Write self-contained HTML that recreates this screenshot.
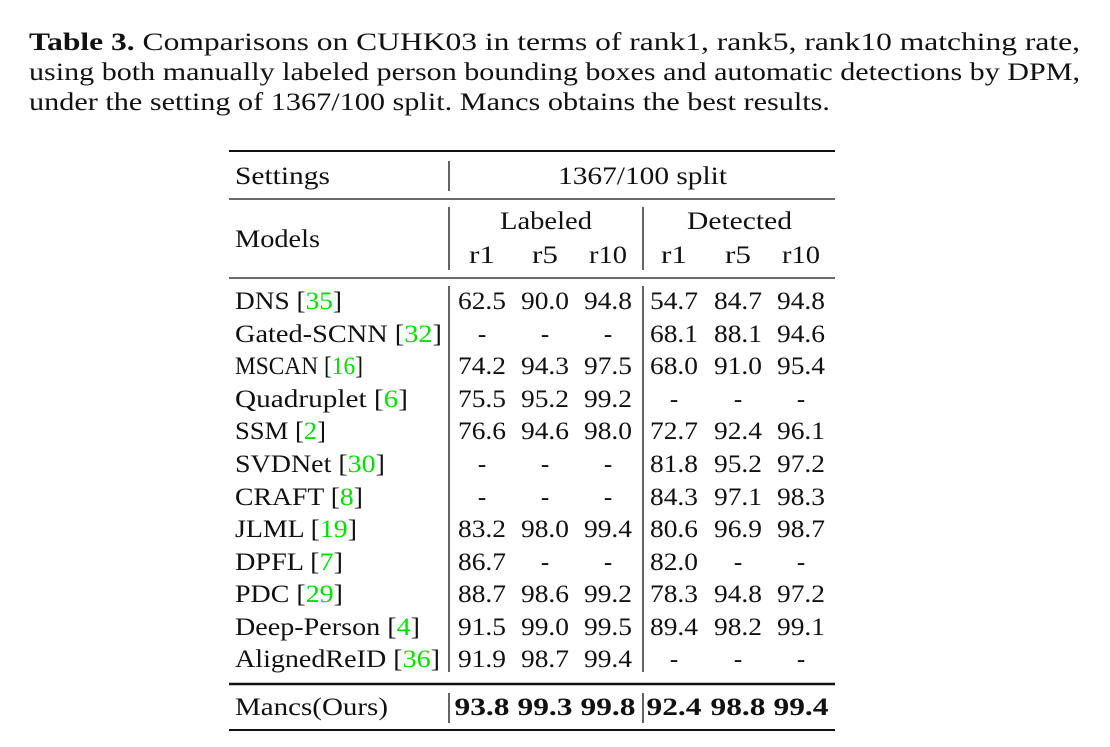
<!DOCTYPE html>
<html><head><meta charset="utf-8"><style>
html,body{margin:0;padding:0;background:#fff;}
svg{display:block;}
text{font-family:"Liberation Serif",serif;font-size:25px;fill:#111;}
.b{font-weight:bold;}
.g{fill:#00e000;}
.n{text-anchor:middle;}
</style></head><body>
<svg width="1110" height="747" viewBox="0 0 1110 747">
<text x="29" y="50" textLength="1051" lengthAdjust="spacingAndGlyphs"><tspan class="b">Table 3.</tspan> Comparisons on CUHK03 in terms of rank1, rank5, rank10 matching rate,</text>
<text x="29" y="80" textLength="1051" lengthAdjust="spacingAndGlyphs">using both manually labeled person bounding boxes and automatic detections by DPM,</text>
<text x="29" y="110" textLength="801" lengthAdjust="spacingAndGlyphs">under the setting of 1367/100 split. Mancs obtains the best results.</text>

<g stroke="#111" fill="none">
<line x1="229" y1="151" x2="835" y2="151" stroke-width="2"/>
<line x1="229" y1="199" x2="835" y2="199" stroke-width="1.3"/>
<line x1="229" y1="278" x2="835" y2="278" stroke-width="1.3"/>
<line x1="229" y1="684" x2="835" y2="684" stroke-width="2.5"/>
<line x1="229" y1="730" x2="835" y2="730" stroke-width="2"/>
<line x1="449" y1="161" x2="449" y2="191" stroke-width="1.3"/>
<line x1="449" y1="207" x2="449" y2="270" stroke-width="1.3"/>
<line x1="449" y1="286" x2="449" y2="672" stroke-width="1.3"/>
<line x1="449" y1="693" x2="449" y2="723" stroke-width="1.3"/>
<line x1="643" y1="207" x2="643" y2="270" stroke-width="1.3"/>
<line x1="643" y1="286" x2="643" y2="672" stroke-width="1.3"/>
<line x1="643" y1="693" x2="643" y2="723" stroke-width="1.3"/>
</g>

<text x="235" y="184" textLength="95" lengthAdjust="spacingAndGlyphs">Settings</text>
<text x="558" y="184" textLength="169" lengthAdjust="spacingAndGlyphs">1367/100 split</text>
<text x="500" y="229" textLength="92" lengthAdjust="spacingAndGlyphs">Labeled</text>
<text x="687" y="229" textLength="105" lengthAdjust="spacingAndGlyphs">Detected</text>
<text x="235" y="247" textLength="85" lengthAdjust="spacingAndGlyphs">Models</text>
<text class="n" x="482" y="263" textLength="26" lengthAdjust="spacingAndGlyphs">r1</text><text class="n" x="545" y="263" textLength="26" lengthAdjust="spacingAndGlyphs">r5</text><text class="n" x="608" y="263" textLength="38" lengthAdjust="spacingAndGlyphs">r10</text>
<text class="n" x="674" y="263" textLength="26" lengthAdjust="spacingAndGlyphs">r1</text><text class="n" x="738" y="263" textLength="26" lengthAdjust="spacingAndGlyphs">r5</text><text class="n" x="801" y="263" textLength="38" lengthAdjust="spacingAndGlyphs">r10</text>

<text x="235" y="309" textLength="107" lengthAdjust="spacingAndGlyphs">DNS [<tspan class="g">35</tspan>]</text>
<text x="235" y="342" textLength="207" lengthAdjust="spacingAndGlyphs">Gated-SCNN [<tspan class="g">32</tspan>]</text>
<text x="235" y="374" textLength="128" lengthAdjust="spacingAndGlyphs">MSCAN [<tspan class="g">16</tspan>]</text>
<text x="235" y="407" textLength="173" lengthAdjust="spacingAndGlyphs">Quadruplet [<tspan class="g">6</tspan>]</text>
<text x="235" y="439" textLength="91" lengthAdjust="spacingAndGlyphs">SSM [<tspan class="g">2</tspan>]</text>
<text x="235" y="472" textLength="150" lengthAdjust="spacingAndGlyphs">SVDNet [<tspan class="g">30</tspan>]</text>
<text x="235" y="505" textLength="128" lengthAdjust="spacingAndGlyphs">CRAFT [<tspan class="g">8</tspan>]</text>
<text x="235" y="537" textLength="122" lengthAdjust="spacingAndGlyphs">JLML [<tspan class="g">19</tspan>]</text>
<text x="235" y="570" textLength="108" lengthAdjust="spacingAndGlyphs">DPFL [<tspan class="g">7</tspan>]</text>
<text x="235" y="602" textLength="108" lengthAdjust="spacingAndGlyphs">PDC [<tspan class="g">29</tspan>]</text>
<text x="235" y="635" textLength="185" lengthAdjust="spacingAndGlyphs">Deep-Person [<tspan class="g">4</tspan>]</text>
<text x="235" y="667" textLength="205" lengthAdjust="spacingAndGlyphs">AlignedReID [<tspan class="g">36</tspan>]</text>
<text x="235" y="715" textLength="153" lengthAdjust="spacingAndGlyphs">Mancs(Ours)</text>

<g>
<text class="n" x="482" y="309" textLength="48" lengthAdjust="spacingAndGlyphs">62.5</text><text class="n" x="545" y="309" textLength="48" lengthAdjust="spacingAndGlyphs">90.0</text><text class="n" x="608" y="309" textLength="48" lengthAdjust="spacingAndGlyphs">94.8</text><text class="n" x="674" y="309" textLength="48" lengthAdjust="spacingAndGlyphs">54.7</text><text class="n" x="738" y="309" textLength="48" lengthAdjust="spacingAndGlyphs">84.7</text><text class="n" x="801" y="309" textLength="48" lengthAdjust="spacingAndGlyphs">94.8</text>
<text class="n" x="482" y="342">-</text><text class="n" x="545" y="342">-</text><text class="n" x="608" y="342">-</text><text class="n" x="674" y="342" textLength="48" lengthAdjust="spacingAndGlyphs">68.1</text><text class="n" x="738" y="342" textLength="48" lengthAdjust="spacingAndGlyphs">88.1</text><text class="n" x="801" y="342" textLength="48" lengthAdjust="spacingAndGlyphs">94.6</text>
<text class="n" x="482" y="374" textLength="48" lengthAdjust="spacingAndGlyphs">74.2</text><text class="n" x="545" y="374" textLength="48" lengthAdjust="spacingAndGlyphs">94.3</text><text class="n" x="608" y="374" textLength="48" lengthAdjust="spacingAndGlyphs">97.5</text><text class="n" x="674" y="374" textLength="48" lengthAdjust="spacingAndGlyphs">68.0</text><text class="n" x="738" y="374" textLength="48" lengthAdjust="spacingAndGlyphs">91.0</text><text class="n" x="801" y="374" textLength="48" lengthAdjust="spacingAndGlyphs">95.4</text>
<text class="n" x="482" y="407" textLength="48" lengthAdjust="spacingAndGlyphs">75.5</text><text class="n" x="545" y="407" textLength="48" lengthAdjust="spacingAndGlyphs">95.2</text><text class="n" x="608" y="407" textLength="48" lengthAdjust="spacingAndGlyphs">99.2</text><text class="n" x="674" y="407">-</text><text class="n" x="738" y="407">-</text><text class="n" x="801" y="407">-</text>
<text class="n" x="482" y="439" textLength="48" lengthAdjust="spacingAndGlyphs">76.6</text><text class="n" x="545" y="439" textLength="48" lengthAdjust="spacingAndGlyphs">94.6</text><text class="n" x="608" y="439" textLength="48" lengthAdjust="spacingAndGlyphs">98.0</text><text class="n" x="674" y="439" textLength="48" lengthAdjust="spacingAndGlyphs">72.7</text><text class="n" x="738" y="439" textLength="48" lengthAdjust="spacingAndGlyphs">92.4</text><text class="n" x="801" y="439" textLength="48" lengthAdjust="spacingAndGlyphs">96.1</text>
<text class="n" x="482" y="472">-</text><text class="n" x="545" y="472">-</text><text class="n" x="608" y="472">-</text><text class="n" x="674" y="472" textLength="48" lengthAdjust="spacingAndGlyphs">81.8</text><text class="n" x="738" y="472" textLength="48" lengthAdjust="spacingAndGlyphs">95.2</text><text class="n" x="801" y="472" textLength="48" lengthAdjust="spacingAndGlyphs">97.2</text>
<text class="n" x="482" y="505">-</text><text class="n" x="545" y="505">-</text><text class="n" x="608" y="505">-</text><text class="n" x="674" y="505" textLength="48" lengthAdjust="spacingAndGlyphs">84.3</text><text class="n" x="738" y="505" textLength="48" lengthAdjust="spacingAndGlyphs">97.1</text><text class="n" x="801" y="505" textLength="48" lengthAdjust="spacingAndGlyphs">98.3</text>
<text class="n" x="482" y="537" textLength="48" lengthAdjust="spacingAndGlyphs">83.2</text><text class="n" x="545" y="537" textLength="48" lengthAdjust="spacingAndGlyphs">98.0</text><text class="n" x="608" y="537" textLength="48" lengthAdjust="spacingAndGlyphs">99.4</text><text class="n" x="674" y="537" textLength="48" lengthAdjust="spacingAndGlyphs">80.6</text><text class="n" x="738" y="537" textLength="48" lengthAdjust="spacingAndGlyphs">96.9</text><text class="n" x="801" y="537" textLength="48" lengthAdjust="spacingAndGlyphs">98.7</text>
<text class="n" x="482" y="570" textLength="48" lengthAdjust="spacingAndGlyphs">86.7</text><text class="n" x="545" y="570">-</text><text class="n" x="608" y="570">-</text><text class="n" x="674" y="570" textLength="48" lengthAdjust="spacingAndGlyphs">82.0</text><text class="n" x="738" y="570">-</text><text class="n" x="801" y="570">-</text>
<text class="n" x="482" y="602" textLength="48" lengthAdjust="spacingAndGlyphs">88.7</text><text class="n" x="545" y="602" textLength="48" lengthAdjust="spacingAndGlyphs">98.6</text><text class="n" x="608" y="602" textLength="48" lengthAdjust="spacingAndGlyphs">99.2</text><text class="n" x="674" y="602" textLength="48" lengthAdjust="spacingAndGlyphs">78.3</text><text class="n" x="738" y="602" textLength="48" lengthAdjust="spacingAndGlyphs">94.8</text><text class="n" x="801" y="602" textLength="48" lengthAdjust="spacingAndGlyphs">97.2</text>
<text class="n" x="482" y="635" textLength="48" lengthAdjust="spacingAndGlyphs">91.5</text><text class="n" x="545" y="635" textLength="48" lengthAdjust="spacingAndGlyphs">99.0</text><text class="n" x="608" y="635" textLength="48" lengthAdjust="spacingAndGlyphs">99.5</text><text class="n" x="674" y="635" textLength="48" lengthAdjust="spacingAndGlyphs">89.4</text><text class="n" x="738" y="635" textLength="48" lengthAdjust="spacingAndGlyphs">98.2</text><text class="n" x="801" y="635" textLength="48" lengthAdjust="spacingAndGlyphs">99.1</text>
<text class="n" x="482" y="667" textLength="48" lengthAdjust="spacingAndGlyphs">91.9</text><text class="n" x="545" y="667" textLength="48" lengthAdjust="spacingAndGlyphs">98.7</text><text class="n" x="608" y="667" textLength="48" lengthAdjust="spacingAndGlyphs">99.4</text><text class="n" x="674" y="667">-</text><text class="n" x="738" y="667">-</text><text class="n" x="801" y="667">-</text>
<text class="n b" x="482" y="715" textLength="55" lengthAdjust="spacingAndGlyphs">93.8</text><text class="n b" x="545" y="715" textLength="55" lengthAdjust="spacingAndGlyphs">99.3</text><text class="n b" x="608" y="715" textLength="55" lengthAdjust="spacingAndGlyphs">99.8</text><text class="n b" x="674" y="715" textLength="55" lengthAdjust="spacingAndGlyphs">92.4</text><text class="n b" x="738" y="715" textLength="55" lengthAdjust="spacingAndGlyphs">98.8</text><text class="n b" x="801" y="715" textLength="55" lengthAdjust="spacingAndGlyphs">99.4</text>
</g>
</svg>
</body></html>
